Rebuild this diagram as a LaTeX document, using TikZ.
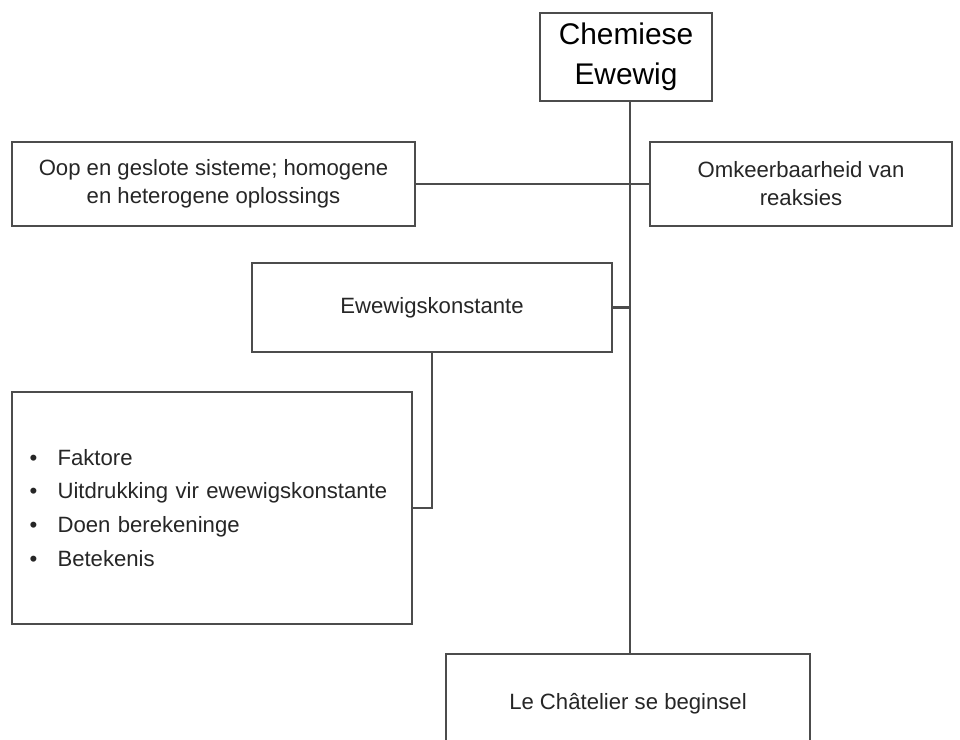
\documentclass[tikz,border=0pt]{standalone}
\usepackage{fontspec}
\setmainfont{Liberation Sans}
\usepackage{tikz}
\usetikzlibrary{positioning,calc}

\begin{document}
\begin{tikzpicture}[
  x=0.02cm, y=-0.02cm,
  block/.style={rectangle, draw=black!70, line width=1.3pt, fill=white, text=black!85, text centered, align=center, outer sep=0pt, font=\fontsize{12.6}{16}\selectfont},
  link/.style={draw=black!70, line width=1.3pt},
]
  \clip (0,0) rectangle (960,740);
  \fill[white] (0,0) rectangle (960,740);

  \coordinate (trunk) at (630,0);

  \node[block, minimum width=3.44cm, minimum height=1.76cm, text=black, font=\fontsize{17}{23}\selectfont] (title) at (626,57) {Chemiese\\Ewewig};
  \node[block, minimum width=8.06cm, minimum height=1.68cm] (open) at (213.5,184) {Oop en geslote sisteme; homogene\\en heterogene oplossings};
  \node[block, minimum width=6.04cm, minimum height=1.68cm] (rev) at (801,184) {Omkeerbaarheid van\\reaksies};
  \node[block, minimum width=7.2cm, minimum height=1.78cm] (konst) at (432,307.5) {Ewewigskonstante};
  \node[block, text width=7.3cm, minimum height=4.64cm, inner xsep=0.35cm, align=left, font=\fontsize{12.6}{19.3}\selectfont] (list) at (212,508)
    {\makebox[0.56cm][l]{\textbullet}Faktore\\
     \makebox[0.56cm][l]{\textbullet}Uitdrukking vir ewewigskonstante\\
     \makebox[0.56cm][l]{\textbullet}Doen berekeninge\\
     \makebox[0.56cm][l]{\textbullet}Betekenis};
  \node[block, minimum width=7.28cm, minimum height=2cm] (chat) at (628,704) {Le Ch\^atelier se beginsel};

  % connectors
  \draw[link] (trunk |- title.south) -- (trunk |- chat.north);
  \draw[link] (open.east) -- (rev.west);
  \draw[link] (konst.east) -- (konst.east -| trunk);
  \draw[link] (konst.south) |- (list.east);
\end{tikzpicture}
\end{document}
